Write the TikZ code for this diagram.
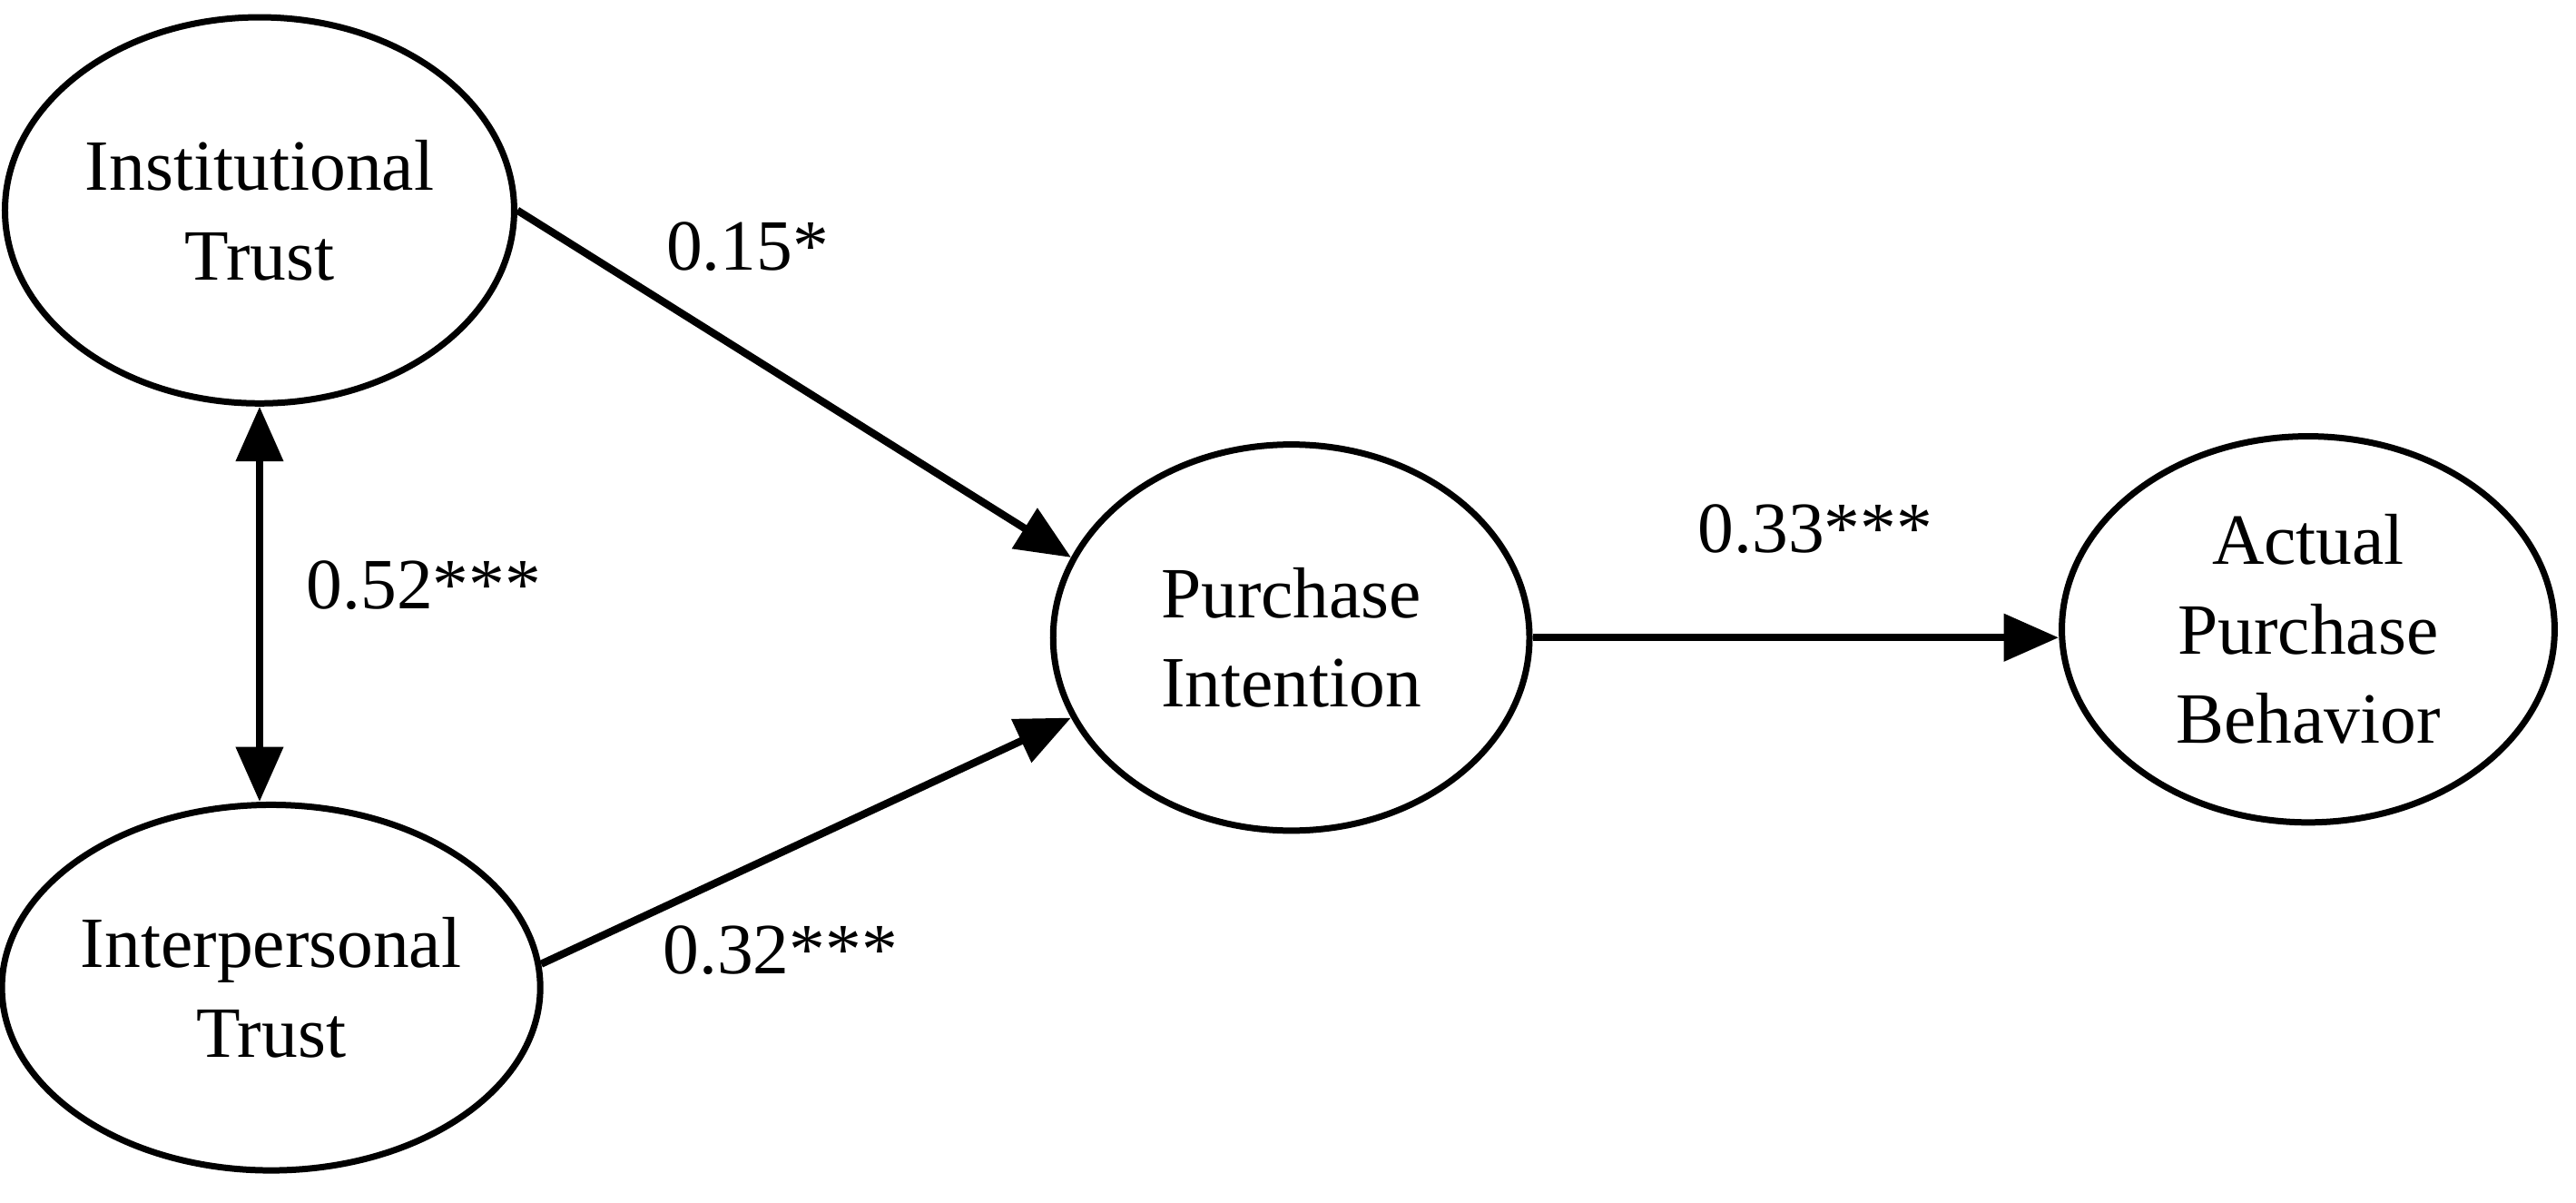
\documentclass[tikz,border=0pt]{standalone}
\usepackage{fontspec}
\setmainfont{Liberation Serif}
\usetikzlibrary{shapes.geometric,arrows.meta}
\begin{document}
\begin{tikzpicture}[x=0.02cm,y=-0.02cm,
  ell/.style={ellipse,draw,line width=2.2pt,inner sep=0pt,align=center,font=\fontsize{25}{31}\selectfont},
  tip/.tip={Triangle[length=19pt,width=16pt]},
  arr/.style={line width=2.6pt,-tip},
  lab/.style={font=\fontsize{25}{30}\selectfont}]
\useasboundingbox (0,0) rectangle (1568,732);
\node[ell,minimum width=6.2cm,minimum height=4.7cm] (it) at (158,128) {Institutional\\Trust};
\node[ell,minimum width=6.4cm,minimum height=4.45cm] (ip) at (165,601) {Interpersonal\\Trust};
\node[ell,minimum width=5.8cm,minimum height=4.7cm] (pi) at (786,388) {Purchase\\Intention};
\node[ell,minimum width=6.0cm,minimum height=4.7cm] (ab) at (1405,383) {Actual\\Purchase\\Behavior};
\draw[arr,tip-tip] (it.south) -- (it.south |- ip.north);
\draw[arr] (it.east) -- (pi.160);
\draw[arr] (ip.5) -- (pi.200);
\draw[arr] (pi.east) -- (pi.east -| ab.west);
\node[lab] (l1) at (455,150) {0.15*};
\node[lab] (l2) at (258,356) {0.52***};
\node[lab] (l3) at (475,578) {0.32***};
\node[lab] (l4) at (1105,322) {0.33***};
\end{tikzpicture}
\end{document}
